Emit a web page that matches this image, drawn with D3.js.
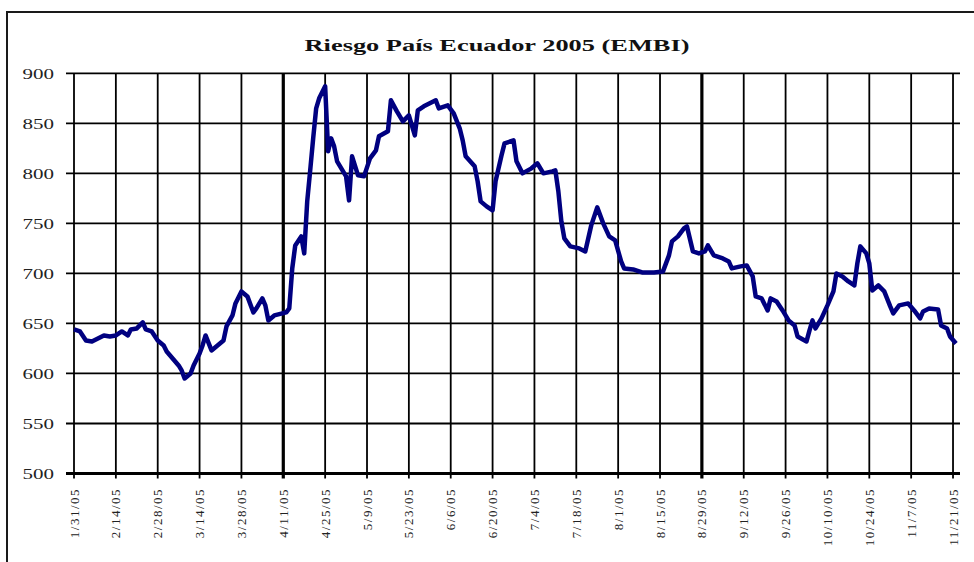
<!DOCTYPE html>
<html>
<head>
<meta charset="utf-8">
<script src="https://cdn.jsdelivr.net/npm/d3@7"></script>
<style>
  body { margin: 0; background: #fff; }
  svg { display: block; }
</style>
</head>
<body>
<div id="chart"></div>
<script>
// Chart data
var dates = [
  "2005-01-31","2005-02-02","2005-02-04","2005-02-06","2005-02-08","2005-02-10","2005-02-12","2005-02-14",
  "2005-02-16","2005-02-18","2005-02-19","2005-02-21","2005-02-23","2005-02-24","2005-02-26","2005-02-28",
  "2005-03-02","2005-03-03","2005-03-05","2005-03-07","2005-03-08","2005-03-09","2005-03-11","2005-03-12",
  "2005-03-14","2005-03-15","2005-03-16","2005-03-18","2005-03-20","2005-03-22","2005-03-23","2005-03-25",
  "2005-03-26","2005-03-28","2005-03-30","2005-04-01","2005-04-02","2005-04-04","2005-04-05","2005-04-06",
  "2005-04-08","2005-04-12","2005-04-13","2005-04-14","2005-04-15","2005-04-17","2005-04-18","2005-04-19",
  "2005-04-20","2005-04-21","2005-04-22","2005-04-23","2005-04-25","2005-04-26","2005-04-27","2005-04-28",
  "2005-04-29","2005-05-02","2005-05-03","2005-05-04","2005-05-06","2005-05-08","2005-05-10","2005-05-12",
  "2005-05-13","2005-05-16","2005-05-17","2005-05-19","2005-05-21","2005-05-23","2005-05-25","2005-05-26",
  "2005-05-28","2005-06-01","2005-06-02","2005-06-05","2005-06-07","2005-06-09","2005-06-10","2005-06-11",
  "2005-06-14","2005-06-15","2005-06-16","2005-06-18","2005-06-20","2005-06-21","2005-06-23","2005-06-24",
  "2005-06-27","2005-06-28","2005-06-30","2005-07-03","2005-07-05","2005-07-07","2005-07-10","2005-07-11",
  "2005-07-12","2005-07-13","2005-07-14","2005-07-16","2005-07-19","2005-07-21","2005-07-23","2005-07-25",
  "2005-07-27","2005-07-29","2005-07-31","2005-08-02","2005-08-03","2005-08-06","2005-08-09","2005-08-13",
  "2005-08-16","2005-08-18","2005-08-19","2005-08-21","2005-08-23","2005-08-24","2005-08-26","2005-08-28",
  "2005-08-30","2005-08-31","2005-09-02","2005-09-05","2005-09-07","2005-09-08","2005-09-11","2005-09-13",
  "2005-09-15","2005-09-16","2005-09-18","2005-09-20","2005-09-21","2005-09-23","2005-09-25","2005-09-27",
  "2005-09-29","2005-09-30","2005-10-03","2005-10-04","2005-10-05","2005-10-06","2005-10-08","2005-10-10",
  "2005-10-12","2005-10-13","2005-10-15","2005-10-17","2005-10-19","2005-10-20","2005-10-21","2005-10-23",
  "2005-10-24","2005-10-25","2005-10-27","2005-10-29","2005-10-31","2005-11-01","2005-11-03","2005-11-06",
  "2005-11-08","2005-11-10","2005-11-11","2005-11-13","2005-11-16","2005-11-17","2005-11-19","2005-11-20",
  "2005-11-22"
];
var embi = [
  644,642,633,632,635,638,637,638,
  642,638,644,645,651,644,642,633,
  628,622,615,608,603,595,600,608,
  620,628,638,623,628,633,647,658,
  670,682,677,661,665,675,668,653,
  658,661,665,705,728,737,720,772,
  803,835,865,875,887,822,835,827,
  812,797,773,817,798,797,815,823,
  837,842,873,862,852,858,838,863,
  867,873,865,868,860,845,833,817,
  807,792,772,767,763,792,818,830,
  833,812,800,805,810,800,802,803,
  782,752,735,727,725,722,748,766,
  750,737,733,712,705,704,701,701,
  702,718,732,737,745,747,722,720,
  722,728,718,715,712,705,707,708,
  697,677,675,663,675,672,663,653,
  648,637,632,643,653,645,655,668,
  682,700,697,692,688,710,727,720,
  710,683,688,682,667,660,668,670,
  663,655,662,665,664,648,645,637,
  630
];
var tickLabels = ["1/31/05","2/14/05","2/28/05","3/14/05","3/28/05","4/11/05","4/25/05","5/9/05",
  "5/23/05","6/6/05","6/20/05","7/4/05","7/18/05","8/1/05","8/15/05","8/29/05","9/12/05",
  "9/26/05","10/10/05","10/24/05","11/7/05","11/21/05"];
var heavyTicks = ["4/11/05", "8/29/05"];
var yTicks = [500, 550, 600, 650, 700, 750, 800, 850, 900];
var title = "Riesgo País Ecuador 2005 (EMBI)";

// Size and plot area
var width = 974, height = 562;
var plotLeft = 74, plotRight = 959, plotTop = 73.3, plotBottom = 473.5;

var parseIso = d3.timeParse("%Y-%m-%d");
var parseLabel = d3.timeParse("%m/%d/%y");

var data = dates.map(function(d, i) { return { date: parseIso(d), value: embi[i] }; });

var svg = d3.select("#chart")
  .append("svg")
    .attr("width", width)
    .attr("height", height);

// Outer frame (runs off the picture on the right and bottom)
svg.append("rect")
  .attr("x", 7).attr("y", 12)
  .attr("width", 990).attr("height", 600)
  .attr("fill", "none")
  .attr("stroke", "#1a1a1a")
  .attr("stroke-width", 2);

// Scales
var x = d3.scaleTime()
  .domain([parseIso("2005-01-31"), parseIso("2005-11-23")])
  .range([plotLeft, plotRight]);

var y = d3.scaleLinear()
  .domain([500, 900])
  .range([plotBottom, plotTop]);

// Horizontal gridlines with the stub ticks on the left
svg.append("g")
  .selectAll("line")
  .data(yTicks)
  .join("line")
    .attr("x1", plotLeft - 8)
    .attr("x2", plotRight + 1)
    .attr("y1", function(d) { return y(d); })
    .attr("y2", function(d) { return y(d); })
    .attr("stroke", "#000")
    .attr("stroke-width", function(d) { return d === 500 ? 3 : 1.8; });

// Vertical gridlines, extending below the axis as ticks
svg.append("g")
  .selectAll("line")
  .data(tickLabels)
  .join("line")
    .attr("x1", function(d) { return x(parseLabel(d)); })
    .attr("x2", function(d) { return x(parseLabel(d)); })
    .attr("y1", plotTop)
    .attr("y2", plotBottom + 5)
    .attr("stroke", "#000")
    .attr("stroke-width", function(d) { return heavyTicks.indexOf(d) >= 0 ? 3.2 : 1.8; });

// Y labels (the reference type is stretched sideways)
svg.append("g")
  .selectAll("text")
  .data(yTicks)
  .join("text")
    .attr("transform", function(d) { return "translate(54," + y(d) + ") scale(1.4,1)"; })
    .attr("dy", "0.35em")
    .attr("text-anchor", "end")
    .attr("font-family", "'Liberation Serif', 'Times New Roman', serif")
    .attr("font-size", 15)
    .attr("fill", "#222")
    .text(function(d) { return d; });

// X labels, rotated
svg.append("g")
  .selectAll("text")
  .data(tickLabels)
  .join("text")
    .attr("transform", function(d) { return "translate(" + x(parseLabel(d)) + ",488) rotate(-90)"; })
    .attr("dy", "0.35em")
    .attr("text-anchor", "end")
    .attr("font-family", "'Liberation Serif', 'Times New Roman', serif")
    .attr("font-size", 13)
    .attr("letter-spacing", 1.5)
    .attr("fill", "#222")
    .text(function(d) { return d; });

// Title, stretched to the reference width
var titleText = svg.append("text")
  .attr("text-anchor", "middle")
  .attr("font-family", "'Liberation Serif', 'Times New Roman', serif")
  .attr("font-weight", "bold")
  .attr("font-size", 17)
  .attr("fill", "#111")
  .text(title);
var titleScale = 385 / titleText.node().getComputedTextLength();
titleText.attr("transform", "translate(497,51) scale(" + titleScale + ",1)");

// The EMBI line
var line = d3.line()
  .x(function(d) { return x(d.date); })
  .y(function(d) { return y(d.value); });

svg.append("path")
  .datum(data)
  .attr("d", line)
  .attr("fill", "none")
  .attr("stroke", "#000080")
  .attr("stroke-width", 4.5)
  .attr("stroke-linejoin", "round");
</script>
</body>
</html>
